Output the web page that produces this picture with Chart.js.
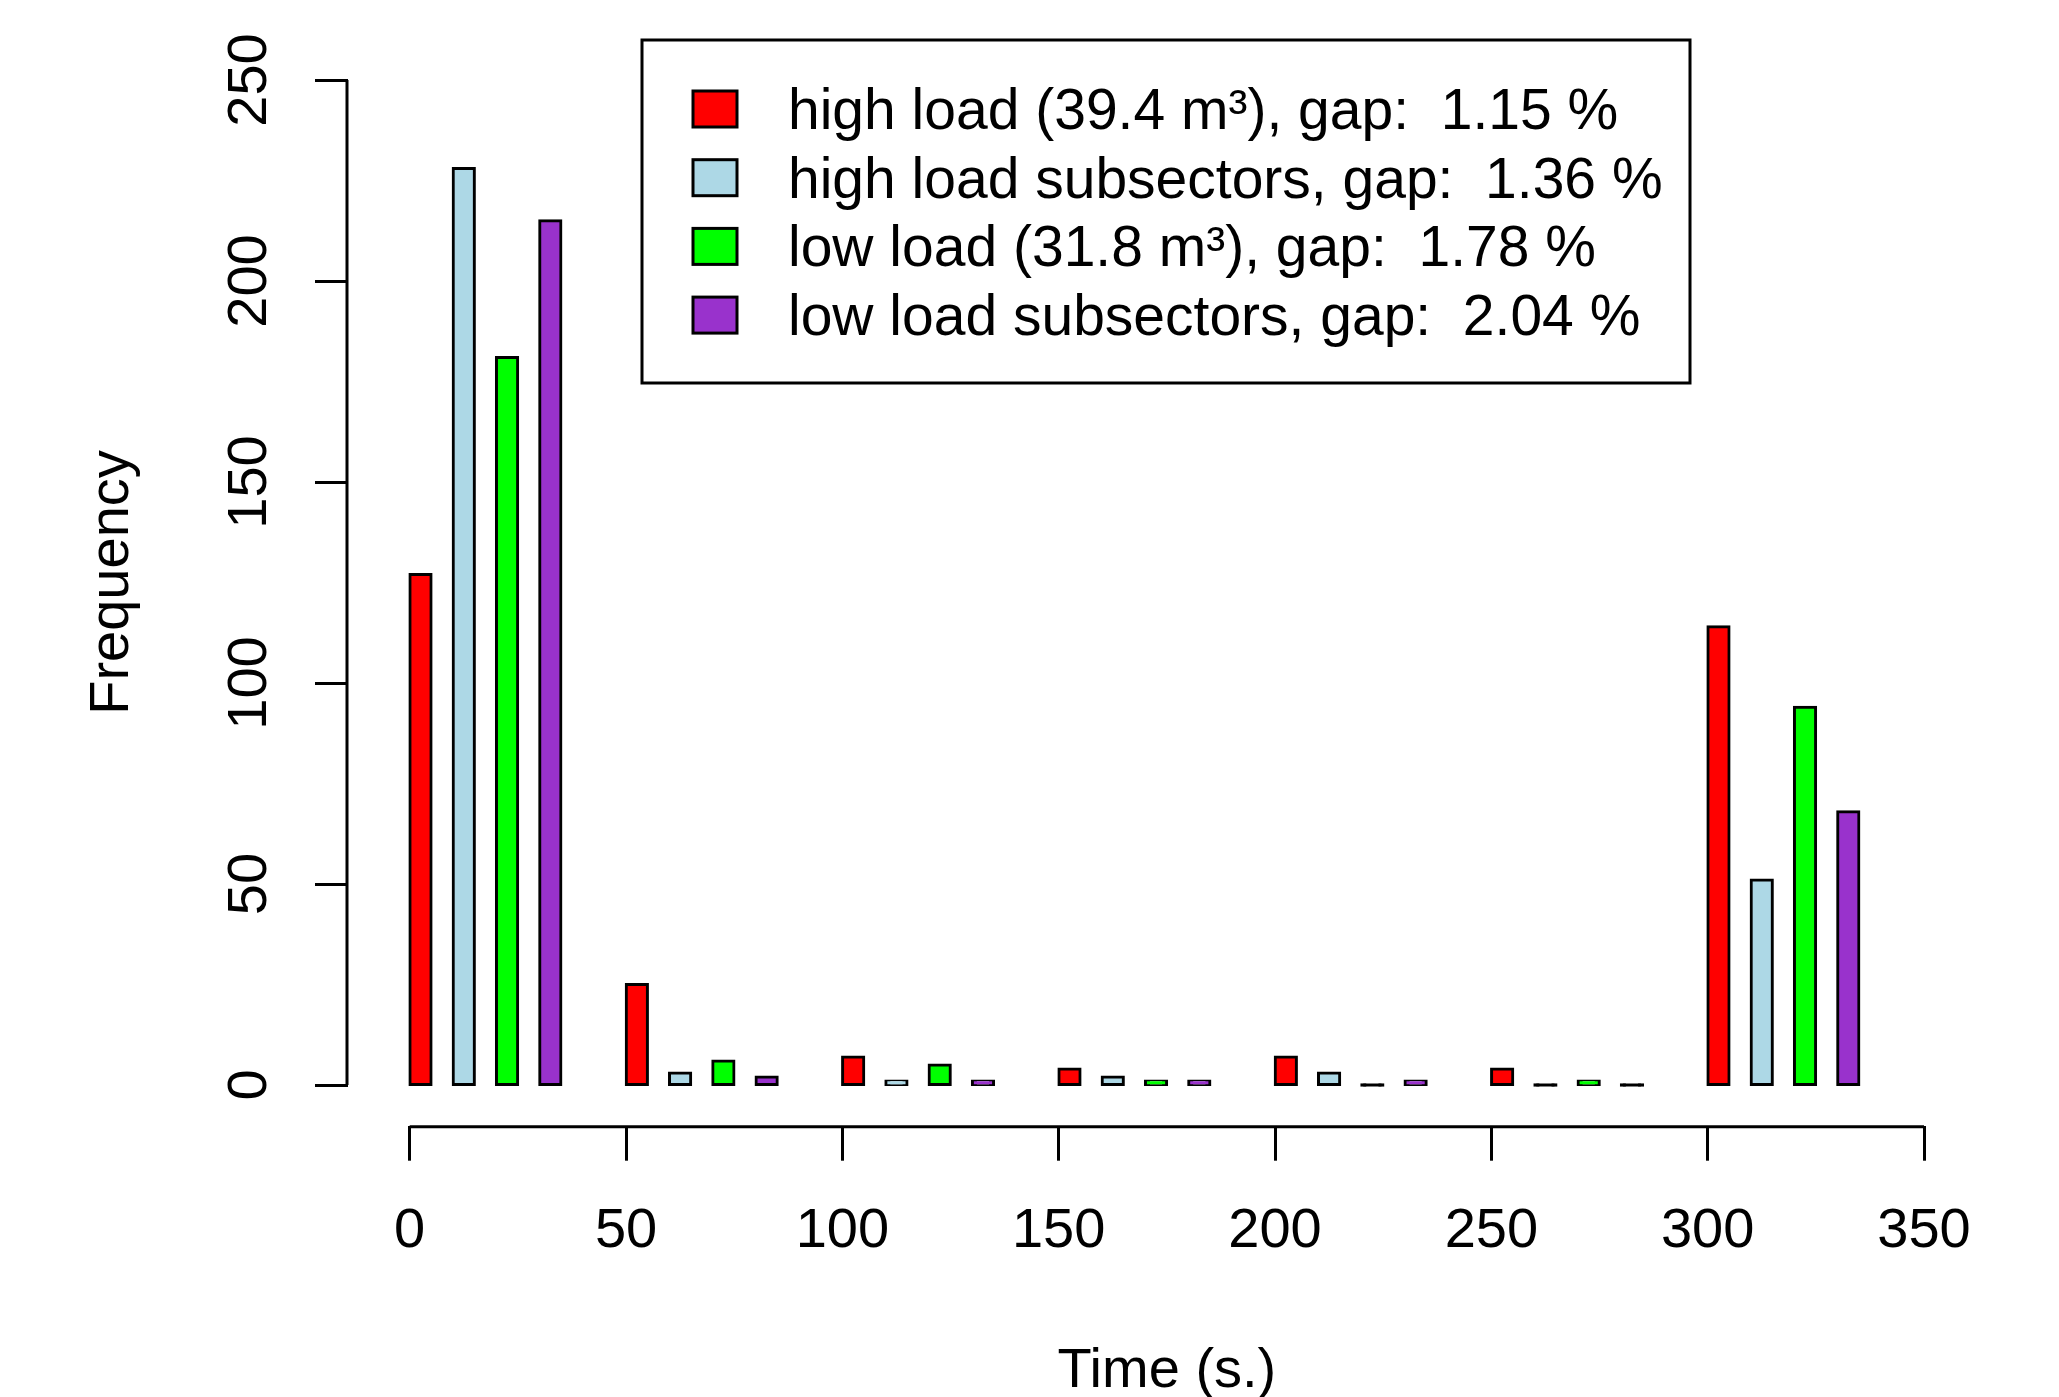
<!DOCTYPE html>
<html>
<head>
<meta charset="utf-8">
<title>Frequency by time</title>
<script src="https://cdn.jsdelivr.net/npm/chart.js@4.4.1/dist/chart.umd.min.js"></script>
<style>
  html, body { margin: 0; padding: 0; background: #fff; }
  #wrap { position: relative; width: 2059px; height: 1397px; }
</style>
</head>
<body>
<div id="wrap"><canvas id="chart"></canvas></div>
<script>
// bin starts (s.) and counts per series
const timeBins = [0, 50, 100, 150, 200, 250, 300];
const highLoad = [127, 25, 7, 4, 7, 4, 114];
const highLoadSub = [228, 3, 1, 2, 3, 0, 51];
const lowLoad = [181, 6, 5, 1, 0, 1, 94];
const lowLoadSub = [215, 2, 1, 1, 1, 0, 68];

const seriesLabels = [
    'high load (39.4 m³), gap:  1.15 %',
    'high load subsectors, gap:  1.36 %',
    'low load (31.8 m³), gap:  1.78 %',
    'low load subsectors, gap:  2.04 %'
];
const seriesColors = ['#ff0000', '#add8e6', '#00ff00', '#9932cc'];

const xTicks = [0, 50, 100, 150, 200, 250, 300, 350];
const yTicks = [0, 50, 100, 150, 200, 250];
const xTitle = 'Time (s.)';
const yTitle = 'Frequency';

const FONT = '"Liberation Sans", Arial, Helvetica, sans-serif';

// each series sits 10 s. further right inside a bin
function toPoints(values, k) {
    return values.map((v, i) => ({ x: timeBins[i] + k * 10 + 2.5, y: v }));
}

// R-style axis lines, axis titles and boxed legend
const rStyle = {
    id: 'rStyle',
    afterDraw(chart) {
        const { ctx, chartArea, scales: { x, y } } = chart;
        ctx.save();
        ctx.strokeStyle = '#000';
        ctx.fillStyle = '#000';
        ctx.lineWidth = 3;

        // axis lines only between first and last tick
        ctx.beginPath();
        ctx.moveTo(chartArea.left - 1, y.getPixelForValue(yTicks[0]));
        ctx.lineTo(chartArea.left - 1, y.getPixelForValue(yTicks[yTicks.length - 1]));
        ctx.stroke();
        ctx.beginPath();
        ctx.moveTo(x.getPixelForValue(xTicks[0]), chartArea.bottom + 1);
        ctx.lineTo(x.getPixelForValue(xTicks[xTicks.length - 1]), chartArea.bottom + 1);
        ctx.stroke();

        // axis titles
        ctx.font = '56px ' + FONT;
        ctx.textAlign = 'center';
        ctx.textBaseline = 'alphabetic';
        const xMid = (x.getPixelForValue(xTicks[0]) + x.getPixelForValue(xTicks[xTicks.length - 1])) / 2;
        ctx.fillText(xTitle, xMid, 1387);
        const yMid = (y.getPixelForValue(yTicks[0]) + y.getPixelForValue(yTicks[yTicks.length - 1])) / 2;
        ctx.save();
        ctx.translate(128, yMid);
        ctx.rotate(-Math.PI / 2);
        ctx.fillText(yTitle, 0, 0);
        ctx.restore();

        // legend
        ctx.strokeRect(642, 40, 1048, 343);
        ctx.font = '57px ' + FONT;
        ctx.textAlign = 'left';
        chart.data.datasets.forEach((ds, i) => {
            const cy = 109 + i * 68.7;
            ctx.fillStyle = seriesColors[i];
            ctx.fillRect(693, cy - 18, 44, 36);
            ctx.strokeRect(693, cy - 18, 44, 36);
            ctx.fillStyle = '#000';
            ctx.fillText(ds.label, 788, cy + 20);
        });
        ctx.restore();
    }
};

const seriesValues = [highLoad, highLoadSub, lowLoad, lowLoadSub];

new Chart(document.getElementById('chart'), {
    type: 'bar',
    data: {
        datasets: seriesValues.map((vals, k) => ({
            label: seriesLabels[k],
            data: toPoints(vals, k),
            // empty bins show only the outline, as a flat black dash
            backgroundColor: c => (c.raw && c.raw.y === 0 ? '#000' : seriesColors[k]),
            borderColor: '#000',
            borderWidth: 3,
            borderSkipped: false,
            inflateAmount: 1.5,
            minBarLength: 0.5,
            grouped: false,
            categoryPercentage: 1,
            barPercentage: 0.49
        }))
    },
    options: {
        responsive: true,
        maintainAspectRatio: false,
        animation: false,
        devicePixelRatio: 1,
        layout: { padding: { top: 80, right: 135, bottom: 0, left: 0 } },
        plugins: {
            legend: { display: false },
            tooltip: { enabled: false }
        },
        scales: {
            x: {
                type: 'linear',
                min: -14.26,
                max: 350,
                offset: false,
                afterBuildTicks: s => { s.ticks = xTicks.map(v => ({ value: v })); },
                afterFit: s => { s.height = 271.3; },
                border: { display: false },
                grid: { offset: false, drawOnChartArea: false, drawTicks: true, tickLength: 35, tickWidth: 3, tickColor: '#000' },
                ticks: {
                    color: '#000',
                    font: { family: FONT, size: 56 },
                    padding: 37,
                    maxRotation: 0,
                    autoSkip: false
                }
            },
            y: {
                type: 'linear',
                min: -10.12,
                max: 250,
                afterBuildTicks: s => { s.ticks = yTicks.map(v => ({ value: v })); },
                afterFit: s => { s.width = 348; },
                border: { display: false },
                grid: { drawOnChartArea: false, drawTicks: true, tickLength: 33, tickWidth: 3, tickColor: '#000' },
                ticks: {
                    color: '#000',
                    font: { family: FONT, size: 56 },
                    padding: 18,
                    minRotation: 90,
                    maxRotation: 90,
                    crossAlign: 'center'
                }
            }
        }
    },
    plugins: [rStyle]
});
</script>
</body>
</html>
